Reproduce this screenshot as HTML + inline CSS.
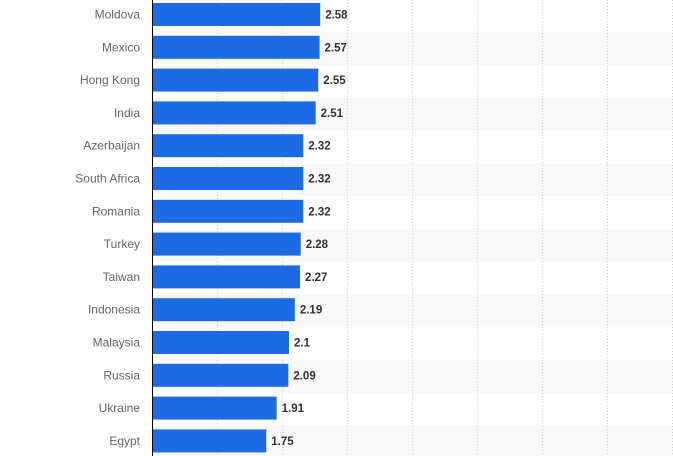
<!DOCTYPE html>
<html><head><meta charset="utf-8"><style>
html,body{margin:0;padding:0;background:#fff;}
svg{display:block;font-family:"Liberation Sans",Arial,sans-serif;}
</style></head><body>
<svg id="chart" width="673" height="456" viewBox="0 0 673 456"></svg>
<script>
const categories=["Moldova","Mexico","Hong Kong","India","Azerbaijan","South Africa","Romania","Turkey","Taiwan","Indonesia","Malaysia","Russia","Ukraine","Egypt"];
const values=[2.58,2.57,2.55,2.51,2.32,2.32,2.32,2.28,2.27,2.19,2.1,2.09,1.91,1.75];
const valueLabels=["2.58","2.57","2.55","2.51","2.32","2.32","2.32","2.28","2.27","2.19","2.1","2.09","1.91","1.75"];
const gridTicks=[1,2,3,4,5,6,7,8];
const NS="http://www.w3.org/2000/svg";
const svg=document.getElementById('chart');
const x0=152.5, unit=65, rowH=32.8, rowTop=-0.5, barH=23, barOff=3.5;
const xs=v=>x0+v*unit;
const ys=i=>rowTop+i*rowH;
function mk(t,a){const e=document.createElementNS(NS,t);for(const k in a)e.setAttribute(k,a[k]);svg.appendChild(e);return e;}
categories.forEach((c,i)=>{if(i%2===1){const r=mk('rect',{x:x0,y:ys(i),width:673-x0,height:rowH,fill:'#f8f8f8'});

}});
gridTicks.forEach(t=>{const l=mk('line',{x1:xs(t),x2:xs(t),y1:0,y2:456,stroke:'#d0d0d0','stroke-width':1,'stroke-dasharray':'1,2'});

});
categories.forEach((c,i)=>{
const b=mk('rect',{x:x0,y:ys(i)+barOff,width:xs(values[i])-x0,height:barH,fill:'#1d6ae5'});


const lb=mk('text',{x:140,y:ys(i)+barOff+barH/2+4,'text-anchor':'end','font-size':12,fill:'#666'});
lb.textContent=c;


const vl=mk('text',{x:xs(values[i])+5,y:ys(i)+barOff+barH/2+4,'font-size':11.5,'font-weight':'bold',fill:'#333'});
vl.textContent=valueLabels[i];


});
const ax=mk('line',{x1:x0,x2:x0,y1:0,y2:456,stroke:'#000','stroke-width':1});


</script>
</body></html>
